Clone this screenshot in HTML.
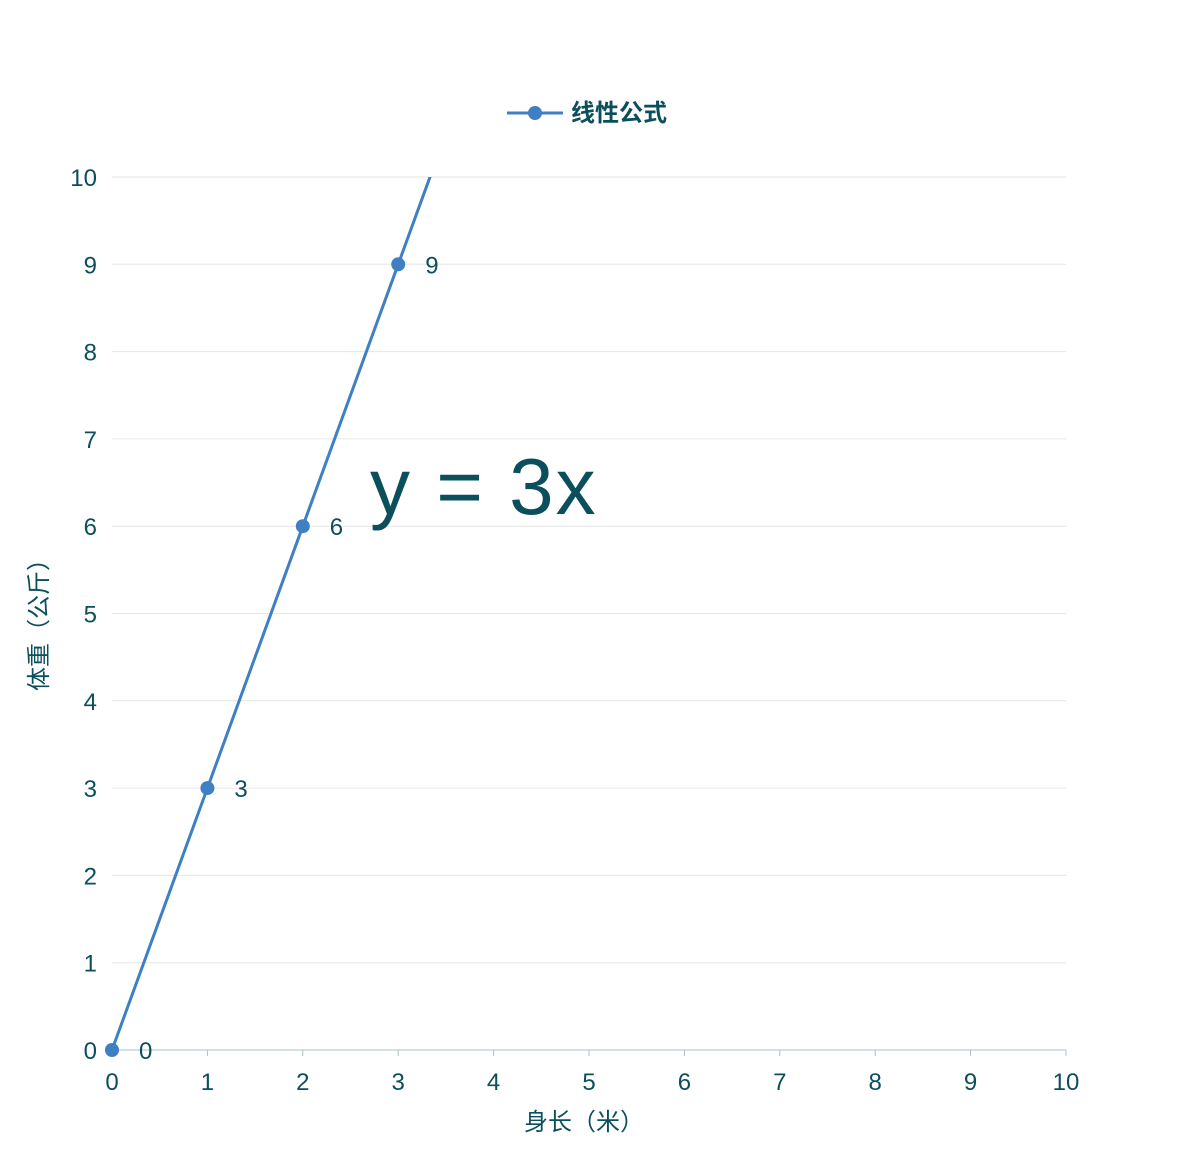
<!DOCTYPE html>
<html><head><meta charset="utf-8"><style>
html,body{margin:0;padding:0;background:#fff}
svg{display:block;font-family:"Liberation Sans","Noto Sans CJK SC",sans-serif}
</style></head><body>
<svg id="chart" width="1184" height="1156">
<g id="grid"></g>
<g id="axes"></g>
<g id="series"></g>
<g>
<line x1="507" y1="113" x2="563" y2="113" stroke="#3f7fc4" stroke-width="3"/>
<circle cx="535" cy="113" r="7" fill="#3f7fc4"/>
<text x="571" y="121" font-size="24" font-weight="bold" fill="#0b4f5c">线性公式</text>
</g>
<text x="370" y="514" font-size="80" letter-spacing="2" fill="#0b4f5c">y = 3x</text>
<text x="584" y="1130" font-size="24" fill="#0b4f5c" text-anchor="middle">身长（米）</text>
<text transform="translate(47,619) rotate(-90)" font-size="24" fill="#0b4f5c" text-anchor="middle">体重（公斤）</text>
</svg>
<script>
const xTicks=[0,1,2,3,4,5,6,7,8,9,10];
const yTicks=[0,1,2,3,4,5,6,7,8,9,10];
const xValues=[0,1,2,3,10];
const yValues=[0,3,6,9,30];
const NS="http://www.w3.org/2000/svg";
const X0=112,X1=1066,Y0=1050,Y1=177;
function sx(v){return X0+(v-0)/(10-0)*(X1-X0);}
function sy(v){return Y0-(v-0)/(10-0)*(Y0-Y1);}
function mk(tag,attrs,parent,txt){const e=document.createElementNS(NS,tag);for(const k in attrs)e.setAttribute(k,attrs[k]);if(txt!==undefined)e.textContent=txt;parent.appendChild(e);return e;}
const grid=document.getElementById('grid'),axes=document.getElementById('axes'),series=document.getElementById('series');
yTicks.forEach(t=>{
  if(t>0){const l=mk('line',{x1:X0,x2:X1,y1:sy(t),y2:sy(t),stroke:'#e6e6e6','stroke-width':1},grid);
  
  }
  const tx=mk('text',{x:97,y:sy(t)+9,'font-size':24,fill:'#0b4f5c','text-anchor':'end'},axes,t);
  
  
});
const ax=mk('line',{x1:X0,x2:X1,y1:Y0,y2:Y0,stroke:'#a9bfcc','stroke-width':1},axes);


xTicks.forEach(t=>{
  const tk=mk('line',{x1:sx(t),x2:sx(t),y1:Y0,y2:Y0+6,stroke:'#a9bfcc'},axes);
  
  
  const tx=mk('text',{x:sx(t),y:Y0+40,'font-size':24,fill:'#0b4f5c','text-anchor':'middle'},axes,t);
  
  
});
const defs=mk('defs',{},document.getElementById('chart'));
const cp=mk('clipPath',{id:'clip'},defs);
mk('rect',{x:X0-10,y:Y1,width:X1-X0+20,height:Y0-Y1+10},cp);
const pts=xValues.map((x,i)=>sx(x)+','+sy(yValues[i])).join(' ');
const pl=mk('polyline',{points:pts,fill:'none',stroke:'#3f7fc4','stroke-width':3,'clip-path':'url(#clip)'},series);


xValues.forEach((x,i)=>{
  const y=yValues[i];
  if(y>10||x>10)return;
  const c=mk('circle',{cx:sx(x),cy:sy(y),r:7,fill:'#3f7fc4'},series);
  
  
  const t=mk('text',{x:sx(x)+27,y:sy(y)+9,'font-size':24,fill:'#0b4f5c'},series,y);
  
  
});
</script>
</body></html>
